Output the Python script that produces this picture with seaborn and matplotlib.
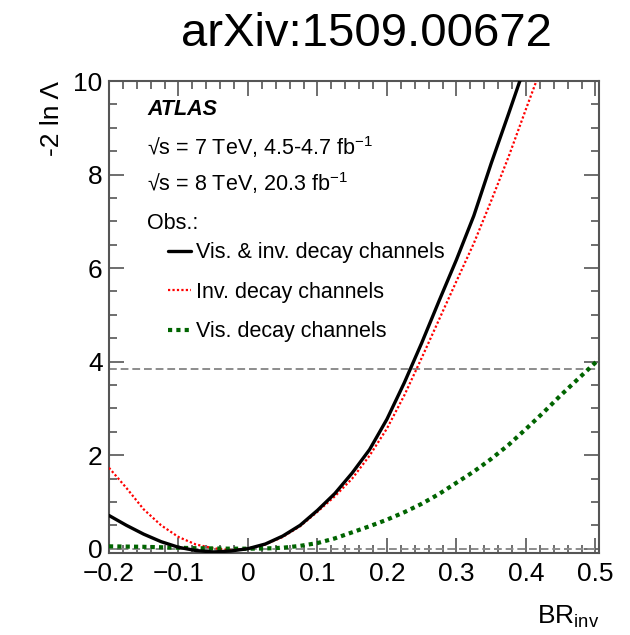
import numpy as np
import pandas as pd
import matplotlib
matplotlib.use("Agg")
import matplotlib.pyplot as plt
from matplotlib.ticker import FixedLocator, FixedFormatter, MultipleLocator
import seaborn as sns

# Profile likelihood scans of BR(H -> invisible)
br_inv = [-0.2, -0.175, -0.15, -0.125, -0.1, -0.075, -0.05, -0.025, 0.0,
          0.025, 0.05, 0.075, 0.1, 0.125, 0.15, 0.175, 0.2, 0.225, 0.25,
          0.275, 0.3, 0.325, 0.35, 0.375, 0.4, 0.425, 0.45, 0.475, 0.5, 0.505]

nll_combined = [0.71, 0.50, 0.31, 0.15, 0.03, -0.04, -0.07, -0.05, 0.0,
                0.10, 0.27, 0.50, 0.82, 1.18, 1.62, 2.12, 2.77, 3.55, 4.40,
                5.30, 6.18, 7.12, 8.24, 9.30, 10.38]

nll_invisible = [1.73, 1.30, 0.84, 0.50, 0.25, 0.09, 0.01, -0.03, 0.0,
                 0.09, 0.25, 0.48, 0.79, 1.12, 1.50, 1.99, 2.57, 3.28, 4.08,
                 4.90, 5.72, 6.53, 7.44, 8.38, 9.40, 10.40]

nll_visible = [0.05, 0.045, 0.04, 0.03, 0.02, 0.01, 0.005, 0.0, 0.0,
               0.005, 0.02, 0.06, 0.12, 0.22, 0.35, 0.48, 0.62, 0.78, 0.96,
               1.17, 1.41, 1.65, 1.92, 2.22, 2.56, 2.91, 3.28, 3.63, 3.98, 4.05]

ref_levels = [0.0, 3.84]

series_labels = ["Vis. & inv. decay channels", "Inv. decay channels",
                 "Vis. decay channels"]

x_ticks = [-0.2, -0.1, 0.0, 0.1, 0.2, 0.3, 0.4, 0.5]
x_tick_labels = ["\u22120.2", "\u22120.1", "0", "0.1", "0.2", "0.3", "0.4", "0.5"]
y_ticks = [0, 2, 4, 6, 8, 10]
y_tick_labels = ["0", "2", "4", "6", "8", "10"]

sns.set_style("ticks")
plt.rcParams["font.family"] = ["Liberation Sans", "DejaVu Sans"]
plt.rcParams["mathtext.fontset"] = "custom"
plt.rcParams["mathtext.rm"] = "Liberation Sans"
plt.rcParams["mathtext.it"] = "Liberation Sans:italic"
plt.rcParams["mathtext.bf"] = "Liberation Sans:bold"
plt.rcParams["text.color"] = "black"
plt.rcParams["axes.labelcolor"] = "black"

fig = plt.figure(figsize=(6.30, 6.35), dpi=100)
ax = fig.add_axes([0.173, 0.1296, 0.778, 0.7428])

frame_color = "#555555"

for lvl in ref_levels:
    ax.axhline(lvl, color="#8c8c8c", lw=1.4, ls=(0, (4, 2)), zorder=1)

df_comb = pd.DataFrame({"br": br_inv[:len(nll_combined)], "nll": nll_combined})
df_inv = pd.DataFrame({"br": br_inv[:len(nll_invisible)], "nll": nll_invisible})
df_vis = pd.DataFrame({"br": br_inv[:len(nll_visible)], "nll": nll_visible})

sns.lineplot(data=df_comb, x="br", y="nll", ax=ax, color="black", lw=2.4,
             label=series_labels[0], zorder=4)
sns.lineplot(data=df_inv, x="br", y="nll", ax=ax, color="#ff0000", lw=1.6,
             ls=(0, (1, 1)), label=series_labels[1], zorder=3)
sns.lineplot(data=df_vis, x="br", y="nll", ax=ax, color="#006400", lw=3.0,
             ls=(0, (1, 1)), label=series_labels[2], zorder=3)

ax.set_xlim(-0.2, 0.5053)
ax.set_ylim(-0.086, 10.0)

ax.xaxis.set_major_locator(FixedLocator(x_ticks))
ax.xaxis.set_major_formatter(FixedFormatter(x_tick_labels))
ax.xaxis.set_minor_locator(MultipleLocator(0.02))
ax.yaxis.set_major_locator(FixedLocator(y_ticks))
ax.yaxis.set_major_formatter(FixedFormatter(y_tick_labels))
ax.yaxis.set_minor_locator(MultipleLocator(0.5))

ax.tick_params(which="both", direction="in", top=True, right=True,
               color=frame_color, width=1.2, labelsize=19, labelcolor="black")
ax.tick_params(which="major", length=11)
ax.tick_params(which="minor", length=6)
ax.tick_params(axis="x", which="major", pad=7)
ax.tick_params(axis="y", which="major", pad=4.5)
for sp in ax.spines.values():
    sp.set_color(frame_color)
    sp.set_linewidth(1.5)

ax.set_xlabel(r"BR$_{\mathregular{inv}}$", fontsize=19, loc="right")
ax.xaxis.set_label_coords(1.0, -0.108)
ax.set_ylabel("-2 ln \u039b", fontsize=19, loc="top")
ax.yaxis.set_label_coords(-0.092, 1.0)

txt_kw = dict(transform=ax.transAxes, va="center", ha="left", fontsize=15.5)
ax.text(0.0776, 0.9406, "ATLAS", fontweight="bold", fontstyle="italic", **txt_kw)
ax.text(0.0776, 0.860, "\u221as = 7 TeV, 4.5-4.7 fb$^{\\mathregular{-1}}$", **txt_kw)
ax.text(0.0776, 0.784, "\u221as = 8 TeV, 20.3 fb$^{\\mathregular{-1}}$", **txt_kw)
ax.text(0.0776, 0.697, "Obs.:", **txt_kw)

ax.legend(loc="upper left", bbox_to_anchor=(0.120, 0.658), frameon=False,
          fontsize=15.5, handlelength=1.07, handletextpad=0.23,
          labelspacing=0.86, borderpad=0.0, borderaxespad=0.0)

fig.text(366 / 630, 1 - 34 / 635, "arXiv:1509.00672", fontsize=34,
         ha="center", va="center", color="black")

fig.savefig("out.png", dpi=100)
